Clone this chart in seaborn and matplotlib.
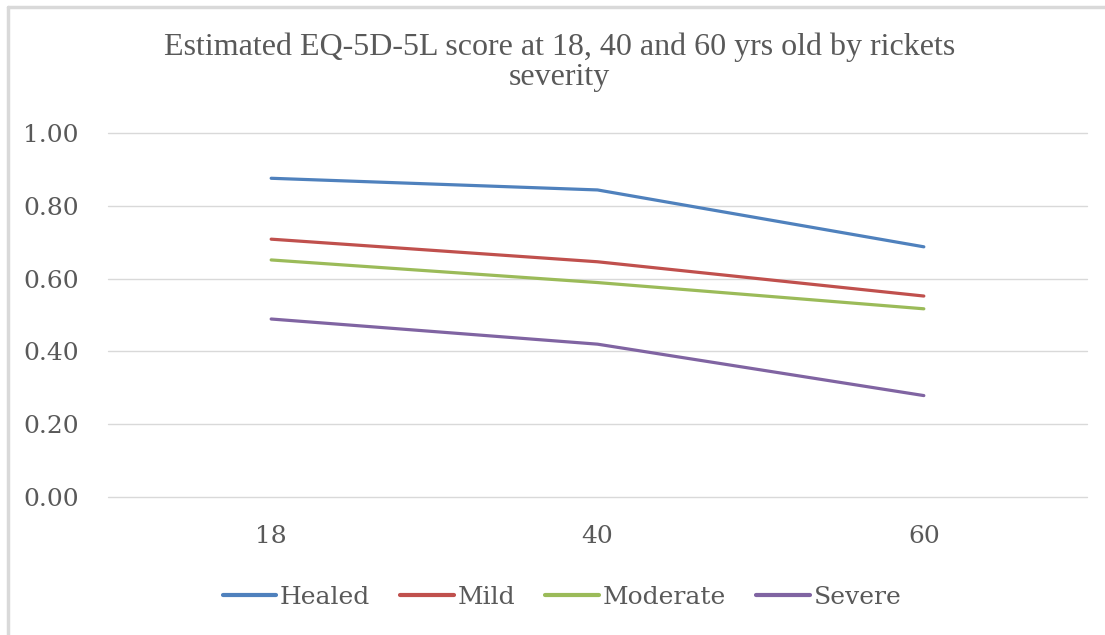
import matplotlib
matplotlib.use("Agg")
import matplotlib.pyplot as plt
import seaborn as sns
import pandas as pd

# EQ-5D-5L scores by age and rickets severity
ages = ["18", "40", "60"]
healed = [0.875, 0.843, 0.687]
mild = [0.708, 0.646, 0.552]
moderate = [0.651, 0.589, 0.517]
severe = [0.489, 0.420, 0.279]
groups = ["Healed", "Mild", "Moderate", "Severe"]
y_ticks = [0.0, 0.2, 0.4, 0.6, 0.8, 1.0]
title = "Estimated EQ-5D-5L score at 18, 40 and 60 yrs old by rickets\nseverity"

palette = ["#4F81BD", "#C0504D", "#9BBB59", "#8064A2"]
text_color = "#595959"

sns.set_theme(style="white")
plt.rcParams["font.family"] = ["DejaVu Serif"]

rows = []
for name, vals in zip(groups, [healed, mild, moderate, severe]):
    for a, v in zip(ages, vals):
        rows.append({"Age": a, "Score": v, "Group": name})
df = pd.DataFrame(rows)

fig = plt.figure(figsize=(11.05, 6.35), dpi=100)
ax = fig.add_axes([108 / 1105, (635 - 497.3) / 635, (1087 - 108) / 1105, (497.3 - 132.7) / 635])

sns.lineplot(data=df, x="Age", y="Score", hue="Group", hue_order=groups,
             palette=palette, linewidth=2.3, ax=ax, sort=False)

ax.set_ylim(0, 1)
ax.set_xlim(-0.5, 2.5)
ax.set_yticks(y_ticks)
ax.set_yticklabels([f"{t:.2f}" for t in y_ticks])
ax.grid(axis="y", color="#D9D9D9", linewidth=1.0)
for gl in ax.get_ygridlines():
    gl.set_clip_on(False)
ax.set_axisbelow(True)
for s in ax.spines.values():
    s.set_visible(False)
ax.set_xlabel("")
ax.set_ylabel("")
ax.tick_params(axis="both", length=0, labelsize=18, labelcolor=text_color)
ax.tick_params(axis="y", pad=21)
ax.tick_params(axis="x", pad=20)

fig.text(0.506, 1 - 62 / 635, title, ha="center", va="center", fontsize=23,
         family="Liberation Serif", color=text_color, linespacing=1.03)

leg = ax.legend(loc="center", bbox_to_anchor=(562 / 1105, 1 - 597 / 635),
                bbox_transform=fig.transFigure, ncol=4,
                frameon=False, fontsize=18, handlelength=2.15, handletextpad=0.15,
                columnspacing=1.2, labelcolor=text_color)
for line in leg.get_lines():
    line.set_linewidth(3)

# chart frame on the top and left edges
fig.add_artist(plt.Line2D([0.0075, 0.0075], [0, 0.989], transform=fig.transFigure,
                          color="#D9D9D9", linewidth=2.5))
fig.add_artist(plt.Line2D([0.0075, 1.0], [0.989, 0.989], transform=fig.transFigure,
                          color="#D9D9D9", linewidth=2.5))

fig.savefig("out.png", dpi=100, facecolor="white")
